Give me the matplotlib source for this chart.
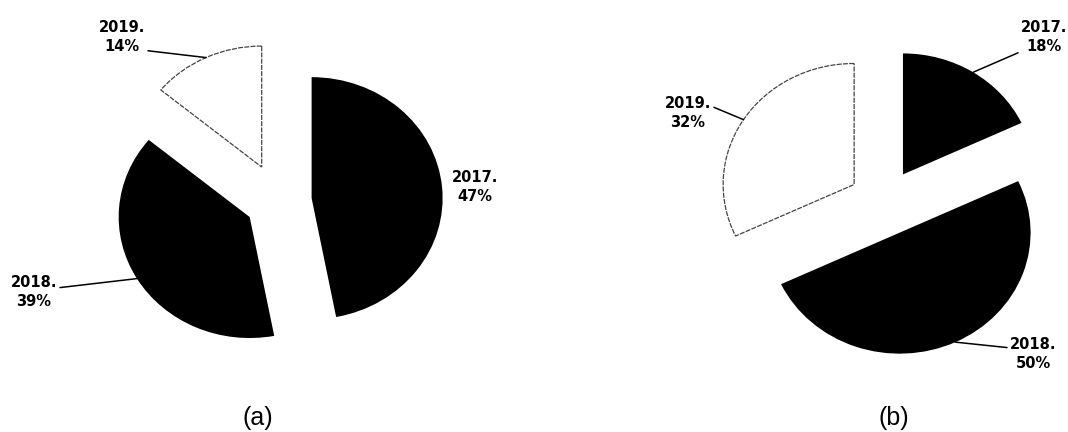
import math
import matplotlib
matplotlib.use('Agg')
import matplotlib.pyplot as plt

W, H = 1068, 432
SX, SY = 131.0, 121.0  # px per data unit (the source pies are a bit squashed)

years = ['2017', '2018', '2019']
share_a = [47, 39, 14]
share_b = [18, 50, 32]
colors = ['#000000', '#000000', '#ffffff']
explode_a = [0.25, 0.26, 0.31]
explode_b = [0.27, 0.28, 0.27]


def d(px, py):
    # pixel position (from top-left) -> data coords
    return px / SX, (H - py) / SY


fig = plt.figure(figsize=(W / 100, H / 100), dpi=100)
ax = fig.add_axes([0, 0, 1, 1])


def draw_pie(shares, explode, center, label_pos):
    wedges, _ = ax.pie(shares, explode=explode, startangle=90, counterclock=False,
                       colors=colors, center=d(*center), radius=1.0,
                       wedgeprops=dict(linewidth=0))
    # white slice gets a thin grey outline
    wedges[2].set_edgecolor('#444444')
    wedges[2].set_linewidth(0.9)
    wedges[2].set_linestyle((0, (4, 1)))
    for w, year, pct, (tx, ty, rel) in zip(wedges, years, shares, label_pos):
        mid = math.radians((w.theta1 + w.theta2) / 2)
        anchor = (w.center[0] + w.r * math.cos(mid), w.center[1] + w.r * math.sin(mid))
        txt = f'{year}.\n{pct}%'
        if rel is None:
            ax.text(*d(tx, ty), txt, ha='center', va='center', fontsize=10.5,
                    fontweight='bold', linespacing=1.35, family='DejaVu Sans')
        else:
            ax.annotate(txt, xy=anchor, xytext=d(tx, ty), ha='center', va='center',
                        fontsize=10.5, fontweight='bold', linespacing=1.35,
                        family='DejaVu Sans',
                        arrowprops=dict(arrowstyle='-', color='black', lw=1.1,
                                        relpos=rel, shrinkA=0, shrinkB=0))


# (a)
draw_pie(share_a, explode_a, (279, 201),
         [(475, 187, None), (34, 292, (1.0, 0.62)), (122, 37, (0.92, 0.12))])
# (b)
draw_pie(share_b, explode_b, (884, 202),
         [(1044, 37, (0.08, 0.12)), (1033, 354, (0.0, 0.68)), (688, 113, (1.0, 0.7))])

ax.text(*d(258, 418), '(a)', ha='center', va='center', fontsize=18, family='Liberation Sans')
ax.text(*d(894, 418), '(b)', ha='center', va='center', fontsize=18, family='Liberation Sans')

ax.set_aspect('auto')
ax.set_xlim(0, W / SX)
ax.set_ylim(0, H / SY)
ax.axis('off')

fig.savefig('out.png', dpi=100, facecolor='white')
